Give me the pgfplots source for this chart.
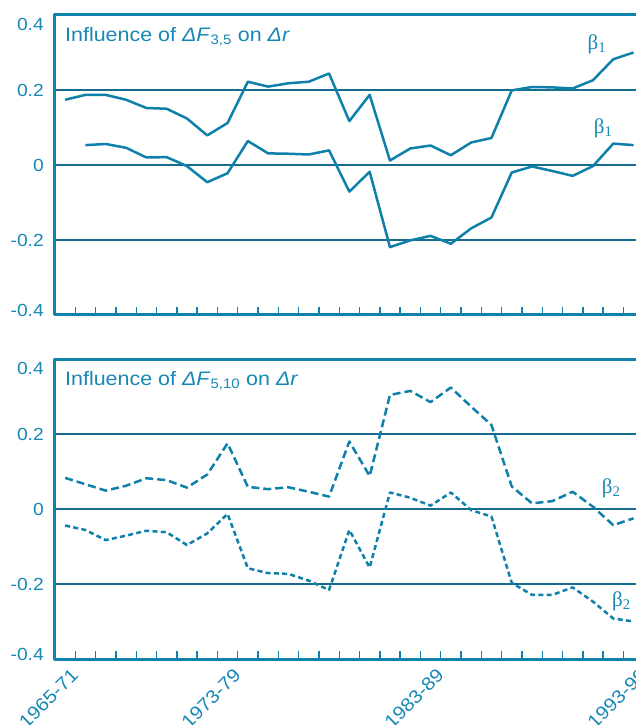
\documentclass[border=0pt]{standalone}
\usepackage{fontspec}
\setmainfont{Liberation Sans}[FakeStretch=1.1]
\newfontfamily\serif{Liberation Serif}
\usepackage{pgfplots}
\pgfplotsset{compat=1.18}
\definecolor{frame}{RGB}{16,130,172}
\definecolor{gridc}{RGB}{22,108,140}
\definecolor{linec}{RGB}{14,128,170}
\definecolor{txt}{RGB}{22,136,180}

\pgfplotstableread{
x a
0.5 0.174
1.5 0.187
2.5 0.187
3.5 0.174
4.5 0.152
5.5 0.150
6.5 0.124
7.5 0.079
8.5 0.112
9.5 0.222
10.5 0.209
11.5 0.218
12.5 0.222
13.5 0.244
14.5 0.117
15.5 0.187
16.5 0.012
17.5 0.044
18.5 0.052
19.5 0.026
20.5 0.060
21.5 0.072
22.5 0.199
23.5 0.208
24.5 0.207
25.5 0.204
26.5 0.226
27.5 0.282
28.5 0.300
}\seriesA

\pgfplotstableread{
x b
1.5 0.053
2.5 0.056
3.5 0.046
4.5 0.020
5.5 0.021
6.5 -0.003
7.5 -0.046
8.5 -0.022
9.5 0.064
10.5 0.031
11.5 0.030
12.5 0.028
13.5 0.039
14.5 -0.071
15.5 -0.018
16.5 -0.219
17.5 -0.201
18.5 -0.189
19.5 -0.210
20.5 -0.169
21.5 -0.140
22.5 -0.020
23.5 -0.004
24.5 -0.016
25.5 -0.029
26.5 -0.003
27.5 0.057
28.5 0.053
}\seriesB

\pgfplotstableread{
x c
0.5 0.083
1.5 0.066
2.5 0.049
3.5 0.062
4.5 0.082
5.5 0.077
6.5 0.057
7.5 0.092
8.5 0.175
9.5 0.059
10.5 0.053
11.5 0.058
12.5 0.046
13.5 0.033
14.5 0.180
15.5 0.088
16.5 0.304
17.5 0.315
18.5 0.285
19.5 0.324
20.5 0.273
21.5 0.224
22.5 0.060
23.5 0.015
24.5 0.021
25.5 0.046
26.5 0.006
27.5 -0.043
28.5 -0.025
}\seriesC

\pgfplotstableread{
x d
0.5 -0.044
1.5 -0.056
2.5 -0.083
3.5 -0.071
4.5 -0.058
5.5 -0.062
6.5 -0.096
7.5 -0.065
8.5 -0.013
9.5 -0.158
10.5 -0.171
11.5 -0.173
12.5 -0.191
13.5 -0.216
14.5 -0.056
15.5 -0.156
16.5 0.044
17.5 0.030
18.5 0.009
19.5 0.044
20.5 -0.003
21.5 -0.020
22.5 -0.197
23.5 -0.229
24.5 -0.229
25.5 -0.209
26.5 -0.247
27.5 -0.292
28.5 -0.300
}\seriesD

\pgfplotsset{
  panel/.style={
    x=20.3pt, y=375pt,
    xmin=0, xmax=29.3, ymin=-0.4, ymax=0.4,
    anchor=south west,
    axis line style={draw=frame, line width=3pt},
    ytick={-0.4,-0.2,0.2,0.4},
    yticklabels={\raisebox{5pt}[\height][\depth]{-0.4},-0.2,0.2,\raisebox{-9pt}[\height][\depth]{0.4}},
    extra y ticks={0},
    extra y tick labels={0},
    extra y tick style={grid style={draw=frame, line width=2.6pt}},
    ymajorgrids,
    major grid style={draw=gridc, line width=1.8pt},
    xtick={1,9,19,29},
    minor xtick={1,2,...,29},
    tick pos=left,
    tick align=inside,
    major tick length=8pt,
    minor tick length=8pt,
    xtick style={draw=frame, line width=1.4pt},
    minor tick style={draw=frame, line width=1.4pt},
    ytick style={draw=none},
    tick label style={font=\fontsize{17.5}{18}\selectfont, text=txt},
    y tick label style={anchor=east, inner sep=0pt},
    yticklabel shift=11pt,
    clip=false,
    line join=round,
  },
}
\tikzset{
  ttl/.style={anchor=base west, inner sep=0pt, font=\fontsize{19.5}{20}\selectfont, text=txt, xshift=10pt, yshift=-26.5pt},
  blab/.style={inner sep=0pt, font=\serif\fontsize{21}{22}\selectfont, text=txt},
}

\begin{document}
\begin{tikzpicture}
\begin{axis}[panel, at={(0,0)}, xticklabels={}]
  \addplot[linec, line width=2.5pt] table[x=x,y=a] {\seriesA};
  \addplot[linec, line width=2.5pt] table[x=x,y=b] {\seriesB};
  \node[ttl] at (rel axis cs:0,1) {Influence of \textit{ΔF}\textsubscript{3,5} on \textit{Δr}};
  \node[blab] at (axis cs:26.7,0.323) {β\textsubscript{1}};
  \node[blab] at (axis cs:27.0,0.097) {β\textsubscript{1}};
\end{axis}
\begin{axis}[panel, at={(0,-344pt)},
    xticklabels={1965-71,1973-79,1983-89,1993-99},
    x tick label style={rotate=45, anchor=north east, inner sep=0pt, font=\fontsize{18.5}{19}\selectfont, xshift=-6pt, yshift=1pt},
    xticklabel shift=5pt]
  \addplot[linec, line width=2.5pt, dash pattern=on 8pt off 4pt] table[x=x,y=c] {\seriesC};
  \addplot[linec, line width=2.5pt, dash pattern=on 5pt off 3.3pt] table[x=x,y=d] {\seriesD};
  \node[ttl] at (rel axis cs:0,1) {Influence of \textit{ΔF}\textsubscript{5,10} on \textit{Δr}};
  \node[blab] at (axis cs:27.4,0.056) {β\textsubscript{2}};
  \node[blab] at (axis cs:27.9,-0.247) {β\textsubscript{2}};
\end{axis}
\pgfresetboundingbox
\path[use as bounding box] (-55pt,-410pt) rectangle (580pt,315pt);
\end{tikzpicture}
\end{document}
